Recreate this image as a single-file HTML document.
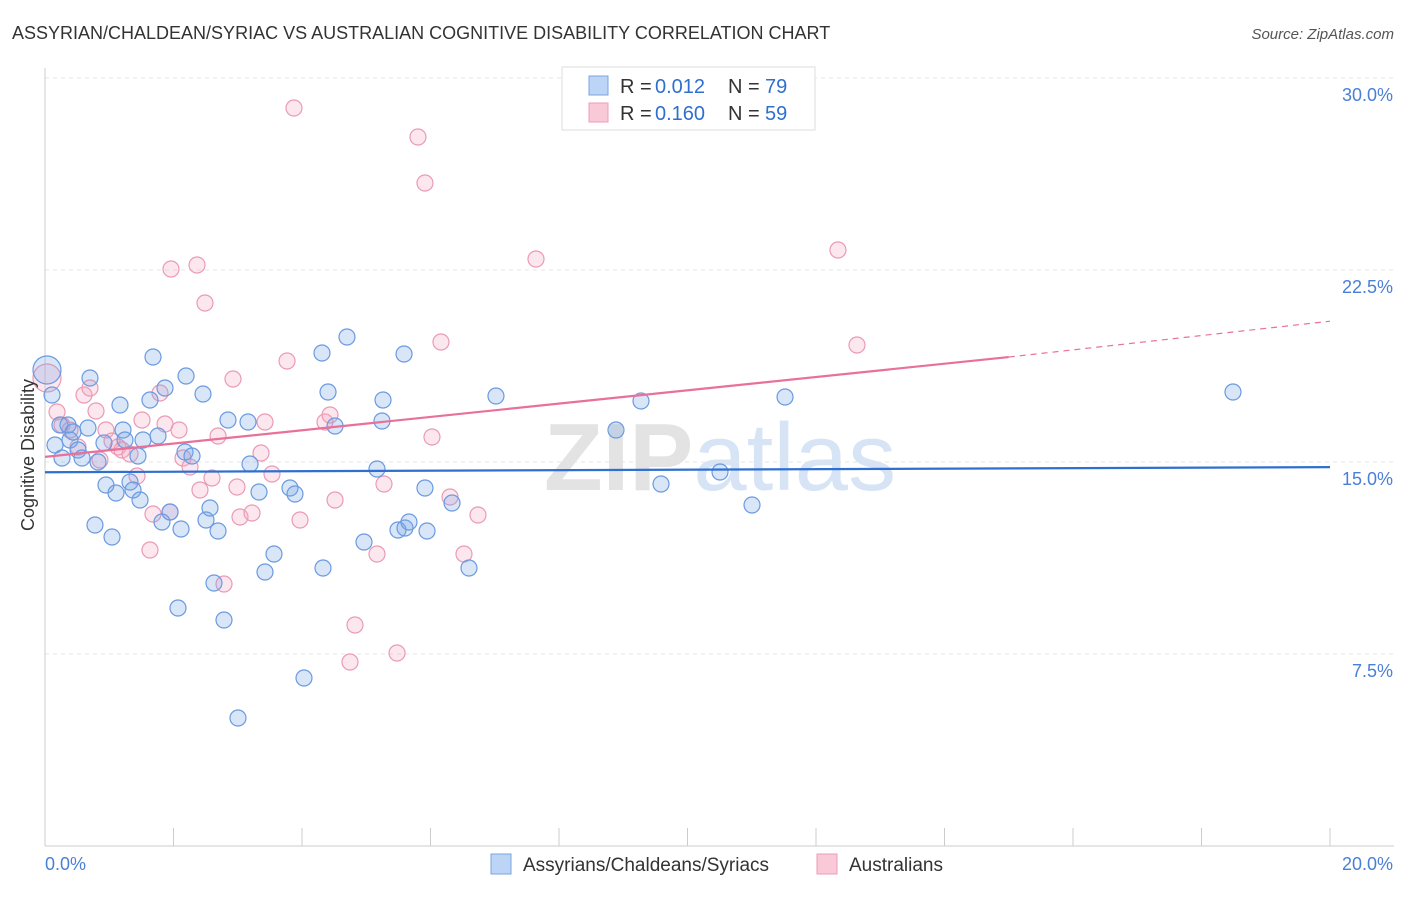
<!DOCTYPE html>
<html><head><meta charset="utf-8"><style>
body{margin:0;background:#fff;font-family:"Liberation Sans",sans-serif}
</style></head><body>
<svg id="c" width="1406" height="892" xmlns="http://www.w3.org/2000/svg" style="font-family:'Liberation Sans',sans-serif">
<text x="12" y="39" font-size="18" fill="#333">ASSYRIAN/CHALDEAN/SYRIAC VS AUSTRALIAN COGNITIVE DISABILITY CORRELATION CHART</text>
<text x="1394" y="39" font-size="15" fill="#555" font-style="italic" text-anchor="end">Source: ZipAtlas.com</text>
<text x="720" y="490" font-size="96" fill="#e3e3e3" text-anchor="middle" font-weight="bold">ZIP<tspan fill="#d6e4f5" font-weight="normal">atlas</tspan></text>
<g id="grid"></g><g id="marks"></g>
<text x="34" y="455" font-size="18" fill="#333" text-anchor="middle" transform="rotate(-90 34 455)">Cognitive Disability</text>
<g>
<rect x="562" y="67" width="253" height="63" fill="#fff" stroke="#ddd"/>
<rect x="589" y="76" width="19" height="19" fill="#bcd4f5" stroke="#7ba3e0"/>
<rect x="589" y="103" width="19" height="19" fill="#f9c9d8" stroke="#ec9db5"/>
<text x="620" y="93" font-size="20" fill="#333">R =</text><text x="655" y="93" font-size="20" fill="#2f6fd0">0.012</text>
<text x="728" y="93" font-size="20" fill="#333">N =</text><text x="765" y="93" font-size="20" fill="#2f6fd0">79</text>
<text x="620" y="120" font-size="20" fill="#333">R =</text><text x="655" y="120" font-size="20" fill="#2f6fd0">0.160</text>
<text x="728" y="120" font-size="20" fill="#333">N =</text><text x="765" y="120" font-size="20" fill="#2f6fd0">59</text>
</g>
<g>
<rect x="491" y="854" width="20" height="20" fill="#bcd4f5" stroke="#7ba3e0"/>
<text x="523" y="871" font-size="19" fill="#333">Assyrians/Chaldeans/Syriacs</text>
<rect x="817" y="854" width="20" height="20" fill="#f9c9d8" stroke="#ec9db5"/>
<text x="849" y="871" font-size="19" fill="#333">Australians</text>
</g>
</svg>
<script>
const yTicks=[7.5,15,22.5,30];
const yTickLabels=["7.5%","15.0%","22.5%","30.0%"];
const xTickLabels=["0.0%","20.0%"];
const bluePx=[[47,370],[52,395],[55,445],[60,425],[62,458],[68,425],[70,440],[73,432],[78,450],[82,458],[88,428],[90,378],[95,525],[98,462],[104,443],[106,485],[112,537],[116,493],[120,405],[123,430],[125,440],[130,482],[133,490],[138,456],[140,500],[143,440],[150,400],[153,357],[158,436],[162,522],[165,388],[170,512],[178,608],[181,529],[185,452],[186,376],[192,456],[203,394],[206,520],[210,508],[214,583],[218,531],[224,620],[228,420],[238,718],[248,422],[250,464],[259,492],[265,572],[274,554],[290,488],[295,494],[304,678],[322,353],[323,568],[328,392],[335,426],[347,337],[364,542],[377,469],[382,421],[383,400],[398,530],[404,354],[405,528],[409,522],[425,488],[427,531],[452,503],[469,568],[496,396],[616,430],[641,401],[661,484],[720,472],[752,505],[785,397],[1233,392]];
const pinkPx=[[47,378],[57,412],[62,425],[70,430],[78,447],[84,395],[90,388],[96,411],[100,460],[106,430],[112,441],[118,447],[122,450],[130,454],[137,476],[142,420],[150,550],[153,514],[160,393],[165,424],[170,512],[171,269],[179,430],[183,458],[190,467],[197,265],[200,490],[205,303],[212,478],[218,436],[224,584],[233,379],[237,487],[240,517],[252,513],[261,453],[265,422],[272,474],[287,361],[300,520],[294,108],[325,422],[330,415],[335,500],[350,662],[355,625],[377,554],[384,484],[397,653],[418,137],[425,183],[432,437],[441,342],[450,497],[464,554],[478,515],[536,259],[838,250],[857,345]];
const toX=p=>(p-45)/1285*20, toY=p=>(846-p)/768*30;
const blueX=bluePx.map(d=>+toX(d[0]).toFixed(3)), blueY=bluePx.map(d=>+toY(d[1]).toFixed(3));
const pinkX=pinkPx.map(d=>+toX(d[0]).toFixed(3)), pinkY=pinkPx.map(d=>+toY(d[1]).toFixed(3));
const blueTrend=[14.6,14.8], pinkTrend=[15.2,19.1,20.5];
const sx=v=>45+v/20*1285, sy=v=>846-v/30*768;
const NS="http://www.w3.org/2000/svg";
function mk(t,a,p){const e=document.createElementNS(NS,t);for(const k in a)e.setAttribute(k,a[k]);p.appendChild(e);return e;}
const g=document.getElementById('grid'), m=document.getElementById('marks');
yTicks.forEach((v,i)=>{
 const l=mk('line',{x1:45,x2:1394,y1:sy(v),y2:sy(v),stroke:'#e4e4e4','stroke-dasharray':'4 4'},g);
 
 
 const t=mk('text',{x:1393,y:sy(v)+23,'font-size':18,fill:'#4a7fd6','text-anchor':'end'},g);
 t.textContent=yTickLabels[i];
 
 
});
mk('line',{x1:45,x2:45,y1:68,y2:846,stroke:'#ccc'},g);
mk('line',{x1:45,x2:1394,y1:846,y2:846,stroke:'#ccc'},g);
for(let i=0;i<=10;i++){mk('line',{x1:sx(i*2),x2:sx(i*2),y1:828,y2:846,stroke:'#ccc'},g);}
[[0,'start',45],[1,'end',1393]].forEach(([i,a,x])=>{const t=mk('text',{x:x,y:870,'font-size':18,fill:'#4a7fd6','text-anchor':a},g);t.textContent=xTickLabels[i];
 
 });
function pts(X,Y,fill,stroke,name){X.forEach((x,i)=>{const r=(i==0)?14:8;
 const c=mk('circle',{cx:sx(x),cy:sy(Y[i]),r:r,fill:fill,stroke:stroke,'stroke-width':1.2},m);
 
 });}
pts(pinkX,pinkY,'rgba(244,170,195,0.28)','#eb9ab4','australians-point');
pts(blueX,blueY,'rgba(120,165,230,0.28)','#6a9ae0','assyrians-point');
let l=mk('line',{x1:sx(0),y1:sy(blueTrend[0]),x2:sx(20),y2:sy(blueTrend[1]),stroke:'#2f6fd0','stroke-width':2.2},m);


l=mk('line',{x1:sx(0),y1:sy(pinkTrend[0]),x2:sx(15),y2:sy(pinkTrend[1]),stroke:'#e8709a','stroke-width':2.2},m);


l=mk('line',{x1:sx(15),y1:sy(pinkTrend[1]),x2:sx(20),y2:sy(pinkTrend[2]),stroke:'#e8709a','stroke-width':1.2,'stroke-dasharray':'6 5'},m);


</script>
</body></html>
